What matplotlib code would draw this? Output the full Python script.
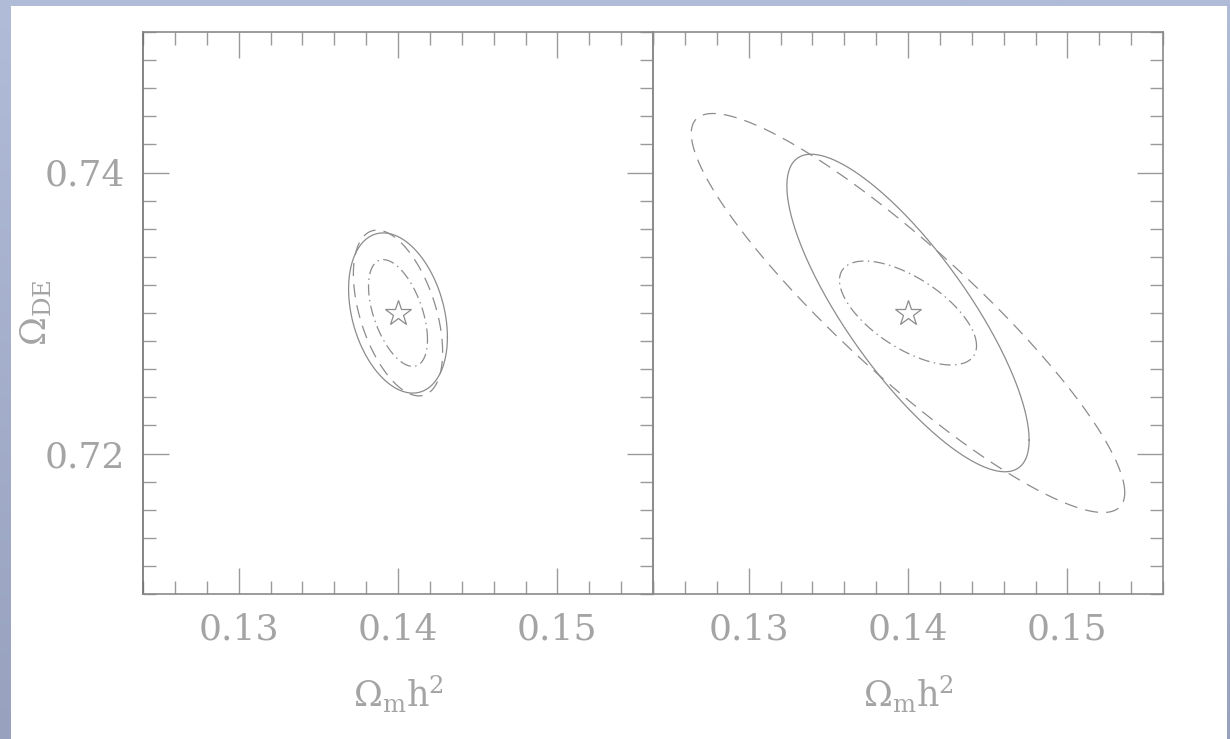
import matplotlib
matplotlib.use("Agg")
import matplotlib.pyplot as plt
import numpy as np
from matplotlib.colors import LinearSegmentedColormap
from matplotlib.patches import Rectangle
from matplotlib.ticker import MultipleLocator

plt.rcParams['font.family'] = ['DejaVu Serif']
plt.rcParams['mathtext.fontset'] = 'dejavuserif'

# fiducial point
center_x = 0.14
center_y = 0.73

# contours: half extent in x, half extent in y, correlation
# left panel
left_solid = (0.0031, 0.0057, -0.30)
left_dashed = (0.0028, 0.0059, -0.47)
left_dashdot = (0.00185, 0.0038, -0.50)
# right panel
right_solid = (0.0076, 0.0113, -0.80)
right_dashed = (0.0136, 0.0142, -0.90)
right_dashdot = (0.0043, 0.0037, -0.63)

xlim = (0.124, 0.156)
ylim = (0.71, 0.75)
xticks = [0.13, 0.14, 0.15]
yticks = [0.72, 0.74]

line_col = '#8c8c8c'
text_col = '#a4a4a4'
spine_col = '#8a8a8a'


def contour(ax, par, **kw):
    sx, sy, rho = par
    t = np.linspace(0, 2 * np.pi, 400)
    x = center_x + sx * np.cos(t)
    y = center_y + sy * (rho * np.cos(t) + np.sqrt(1 - rho ** 2) * np.sin(t))
    ax.plot(x, y, color=line_col, lw=0.9, **kw)


fig = plt.figure(figsize=(12.3, 7.39), dpi=100)

# slide background
bg = fig.add_axes([0, 0, 1, 1], zorder=-5)
grad = np.linspace(0, 1, 256).reshape(-1, 1)
cm = LinearSegmentedColormap.from_list('bg', ['#b1bcd9', '#98a2bf'])
bg.imshow(grad, aspect='auto', cmap=cm, extent=[0, 1, 0, 1], origin='upper')
bg.add_patch(Rectangle((11 / 1230, 0), (1227 - 11) / 1230, 1 - 6 / 739,
                       facecolor='white', edgecolor='none'))
bg.set_xlim(0, 1)
bg.set_ylim(0, 1)
bg.axis('off')

axw = 510 / 1230
axh = 562 / 739
bot = 1 - 594 / 739
ax1 = fig.add_axes([143 / 1230, bot, axw, axh])
ax2 = fig.add_axes([653 / 1230, bot, axw, axh])

dash = (0, (10.5, 6.5))
dashdot = (0, (9, 3.5, 1.2, 3.5))
contour(ax1, left_solid, ls='-')
contour(ax1, left_dashed, ls=dash)
contour(ax1, left_dashdot, ls=dashdot)
contour(ax2, right_solid, ls='-')
contour(ax2, right_dashed, ls=dash)
contour(ax2, right_dashdot, ls=dashdot)

for ax in (ax1, ax2):
    ax.plot(center_x, center_y, marker='*', ms=19, mfc='none', mec=line_col, mew=0.9)
    ax.set_xlim(*xlim)
    ax.set_ylim(*ylim)
    ax.set_xticks(xticks)
    ax.set_yticks(yticks)
    ax.xaxis.set_minor_locator(MultipleLocator(0.002))
    ax.yaxis.set_minor_locator(MultipleLocator(0.002))
    ax.tick_params(which='both', direction='in', top=True, right=True,
                   color='#9a9a9a', width=1.0, labelcolor=text_col, labelsize=26)
    ax.tick_params(which='major', length=18.5, pad=13)
    ax.tick_params(which='minor', length=9.5)
    for s in ax.spines.values():
        s.set_color(spine_col)
        s.set_linewidth(1.2)
    ax.set_xlabel(r'$\Omega_{\rm m}{\rm h}^2$', fontsize=25, color=text_col, labelpad=20)
    ax.set_facecolor('none')

ax1.spines['left'].set_color('#6f6f6f')
ax1.set_ylabel(r'$\Omega_{\rm DE}$', fontsize=25, color=text_col)
ax1.yaxis.set_label_coords(-0.175, 0.5)
ax2.tick_params(which='both', left=False, labelleft=False)

fig.savefig('out.png', dpi=100)
